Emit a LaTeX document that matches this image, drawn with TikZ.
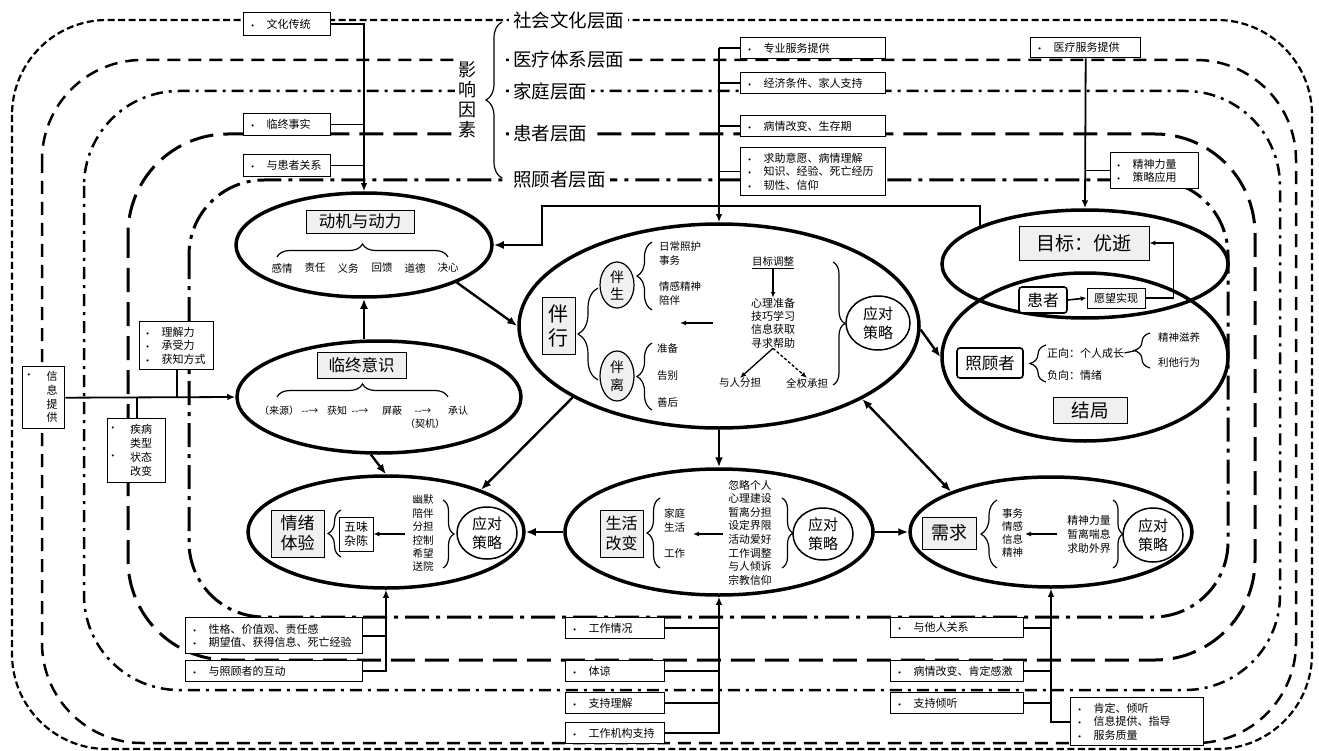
\documentclass[tikz,border=0pt]{standalone}
\usepackage{fontspec}
\setmainfont{Noto Sans CJK SC}
\newfontfamily\dvs{DejaVu Sans}
\usetikzlibrary{shapes.geometric,arrows.meta,decorations.pathreplacing,calc}
\newcommand{\fs}[2]{\fontsize{#1pt}{#2pt}\selectfont}
\newcommand{\bul}{\makebox[16pt][l]{\dvs\fontsize{7pt}{7pt}\selectfont •}}
\newcommand{\darrw}{-{}-→}
\tikzset{
 lay1/.style={line width=2.2pt, dash pattern=on 7pt off 3.5pt},
 lay2/.style={line width=2.5pt, dash pattern=on 13pt off 8pt},
 lay3/.style={line width=2.5pt, dash pattern=on 12pt off 6pt on 3pt off 6pt},
 lay4/.style={line width=3pt, dash pattern=on 24pt off 10pt},
 lay5/.style={line width=3pt, dash pattern=on 24pt off 7pt on 4pt off 7pt},
 lab/.style={anchor=west, fill=white, inner xsep=4pt, inner ysep=1pt, font=\fs{18.5}{20}},
 ibox/.style={draw, line width=1.4pt, fill=white, inner xsep=7pt, inner ysep=0pt, align=left, font=\fs{11}{13.5}, anchor=north west},
 tbox/.style={draw, line width=0.8pt, fill=gray!12, inner sep=0pt, align=center},
 rbox/.style={draw, line width=1.6pt, rounded corners=3pt, fill=white, inner sep=0pt},
 bigell/.style={ellipse, draw, line width=3.5pt, fill=white, inner sep=0pt},
 smell/.style={ellipse, draw, line width=1.5pt, fill=white, inner sep=0pt, align=center, font=\fs{15}{19}},
 txt/.style={inner sep=0pt, align=center},
 conn/.style={line width=1.6pt},
 barr/.style={line width=1.8pt, -{Latex[length=8pt,width=6.5pt]}},
 arr/.style={line width=2.4pt, -{Latex[length=10pt,width=8pt]}},
 darr/.style={line width=2.4pt, {Latex[length=10pt,width=8pt]}-{Latex[length=10pt,width=8pt]}},
 sarr/.style={line width=1.3pt, -{Latex[length=6pt,width=5pt]}},
 brc/.style={decorate, decoration={brace, amplitude=#1}, line width=1.2pt},
}
\begin{document}
\begin{tikzpicture}[x=1pt,y=-1pt]
\useasboundingbox (0,0) rectangle (1319,751);
% ---------- layers ----------
\draw[lay1, rounded corners=95pt] (12,20) rectangle (1312,749);
\draw[lay2, rounded corners=100pt] (42,60) rectangle (1296,743);
\draw[lay3, rounded corners=95pt] (84,91) rectangle (1280,690);
\draw[lay4, rounded corners=100pt] (128,134) rectangle (1255,660);
\draw[lay5, rounded corners=75pt] (189,180) rectangle (1228,617);
\fill[white] (455,38) rectangle (506,172);
\node[lab] (L1) at (509,20) {社会文化层面};
\node[lab] (L2) at (509,60) {医疗体系层面};
\node[lab] (L3) at (509,91) {家庭层面};
\node[lab] (L4) at (509,134) {患者层面};
\node[lab] (L5) at (509,180) {照顾者层面};
\draw[brc=16] (502,178) -- (502,22);
\node[txt, font=\fs{18}{20}] (YX) at (467,100) {影\\响\\因\\素};
% ---------- big ellipses ----------
\node[bigell, minimum width=256pt, minimum height=104pt] (E1) at (364,245) {};
\node[bigell, minimum width=284pt, minimum height=112pt] (E2) at (379,397) {};
\node[bigell, minimum width=400pt, minimum height=204pt] (E3) at (719,326) {};
\fill[white] (1085,264) ellipse [x radius=143pt, y radius=54pt];
\fill[white] (1085,357) ellipse [x radius=143pt, y radius=84pt];
\node[ellipse, draw, line width=3.5pt, inner sep=0pt, minimum width=286pt, minimum height=108pt] (E4) at (1085,264) {};
\node[ellipse, draw, line width=3.5pt, inner sep=0pt, minimum width=286pt, minimum height=168pt] (E5) at (1085,357) {};
\node[bigell, minimum width=276pt, minimum height=112pt] (E6) at (386,532) {};
\node[bigell, minimum width=308pt, minimum height=126pt] (E7) at (719,532) {};
\node[bigell, minimum width=282pt, minimum height=110pt] (E8) at (1051,532) {};
% ---------- info boxes ----------
\node[ibox, minimum width=87pt, minimum height=23pt, text width=73pt] (B1) at (243,12) {\bul 文化传统};
\node[ibox, minimum width=87pt, minimum height=22pt, text width=73pt] (B2) at (243,113) {\bul 临终事实};
\node[ibox, minimum width=87pt, minimum height=22pt, text width=73pt] (B3) at (243,154) {\bul 与患者关系};
\node[ibox, minimum width=145pt, minimum height=21pt, text width=131pt] (B4) at (740,37) {\bul 专业服务提供};
\node[ibox, minimum width=145pt, minimum height=21pt, text width=131pt] (B5) at (740,72) {\bul 经济条件、家人支持};
\node[ibox, minimum width=145pt, minimum height=21pt, text width=131pt] (B6) at (740,115) {\bul 病情改变、生存期};
\node[ibox, minimum width=145pt, minimum height=48pt, text width=131pt] (B7) at (740,147) {\bul 求助意愿、病情理解\\\bul 知识、经验、死亡经历\\\bul 韧性、信仰};
\node[ibox, minimum width=110pt, minimum height=20pt, text width=96pt] (B8) at (1030,37) {\bul 医疗服务提供};
\node[ibox, inner xsep=6pt, minimum width=88pt, minimum height=36pt, text width=76pt] (B9) at (1110,152) {\bul 精神力量\\\bul 策略应用};
\node[ibox, inner xsep=6pt, minimum width=74pt, minimum height=48pt, text width=62pt] (B10) at (139,321) {\bul 理解力\\\bul 承受力\\\bul 获知方式};
\node[ibox, minimum width=42pt, minimum height=62pt, text width=28pt] (B11) at (22,366) {};
\node[txt, font=\dvs\fs{7}{7}] (b11a) at (29,376) {•};
\node[txt, font=\fs{11}{13.7}] (b11t) at (52,397) {信\\息\\提\\供};
\node[ibox, minimum width=58pt, minimum height=64pt, text width=44pt] (B12) at (107,418) {};
\node[txt, font=\dvs\fs{7}{7}] (b12a) at (113,429) {•};
\node[txt, font=\dvs\fs{7}{7}] (b12b) at (113,457) {•};
\node[txt, font=\fs{11}{14}] (b12t) at (141,450) {疾病\\类型\\状态\\改变};
\node[ibox, minimum width=177pt, minimum height=36pt, text width=163pt] (B13) at (185,617) {\bul 性格、价值观、责任感\\\bul 期望值、获得信息、死亡经验};
\node[ibox, minimum width=177pt, minimum height=21pt, text width=163pt] (B14) at (185,660) {\bul 与照顾者的互动};
\node[ibox, minimum width=99pt, minimum height=21pt, text width=85pt] (B15) at (565,617) {\bul 工作情况};
\node[ibox, minimum width=99pt, minimum height=21pt, text width=85pt] (B16) at (565,660) {\bul 体谅};
\node[ibox, minimum width=99pt, minimum height=21pt, text width=85pt] (B17) at (565,692) {\bul 支持理解};
\node[ibox, minimum width=99pt, minimum height=21pt, text width=85pt] (B18) at (565,722) {\bul 工作机构支持};
\node[ibox, minimum width=133pt, minimum height=20pt, text width=119pt] (B19) at (890,617) {\bul 与他人关系};
\node[ibox, minimum width=133pt, minimum height=21pt, text width=119pt] (B20) at (890,660) {\bul 病情改变、肯定感激};
\node[ibox, minimum width=133pt, minimum height=21pt, text width=119pt] (B21) at (890,692) {\bul 支持倾听};
\node[ibox, minimum width=133pt, minimum height=48pt, text width=119pt] (B22) at (1070,697) {\bul 肯定、倾听\\\bul 信息提供、指导\\\bul 服务质量};
% ---------- box connectors ----------
\draw[barr] (B1.east) -| (E1.north);
\draw[conn] (B2.east) -- (B2.east -| E1.north);
\draw[conn] (B3.east) -- (B3.east -| E1.north);
\draw[barr] (B4.west -| E3.north) -- (E3.north);
\draw[conn] (B4.west) -- (B4.west -| E3.north);
\draw[conn] (B5.west) -- (B5.west -| E3.north);
\draw[conn] (B6.west) -- (B6.west -| E3.north);
\draw[conn] (B7.west) -- (B7.west -| E3.north);
\draw[barr] (B8.south) -- (E4.north);
\draw[conn] (B9.west) -- (B9.west -| E4.north);
\draw[barr] (B11.east) -- (E2.west);
\draw[conn] (B10.south) -- (B10.south |- B11.east);
\draw[conn] (B12.north) -- (B12.north |- B11.east);
\draw[barr] (B14.east) -| (E6.south);
\draw[conn] (B13.east) -- (B13.east -| E6.south);
\draw[barr] (B18.east) -| (E7.south);
\draw[conn] (B15.east) -- (B15.east -| E7.south);
\draw[conn] (B16.east) -- (B16.east -| E7.south);
\draw[conn] (B17.east) -- (B17.east -| E7.south);
\draw[barr] (B22.west) -| (E8.south);
\draw[conn] (B19.east) -- (B19.east -| E8.south);
\draw[conn] (B20.east) -- (B20.east -| E8.south);
\draw[conn] (B21.east) -- (B21.east -| E8.south);
% ---------- ellipse connectors ----------
\coordinate (jt) at (542,206);
\draw[arr] (E4.160) |- (jt) |- (E1.east);
\draw[arr] (E1.south |- E2.north) -- (E1.south);
\draw[arr] (E1.-22) -- (E3.west);
\draw[arr] (E3.206) -- (E6.24);
\draw[arr] (E2.262) -- (E6.north);
\draw[arr] (E3.south) -- (E7.north);
\draw[arr] (E7.west) -- (E6.east);
\draw[arr] (E7.east) -- (E8.west);
\draw[darr] (E3.-27) -- (E8.158);
\draw[arr] (E3.-1) -- (E5.west);
% ---------- E1 content ----------
\node[tbox, minimum width=108pt, minimum height=23pt, font=\fs{16.5}{18}] (T1) at (360,221.5) {动机与动力};
\draw[brc=13] (277,257) -- (448,257);
\foreach \x/\t [count=\i] in {282/感情,315/责任,348/义务,382/回馈,415/道德,448/决心}
  \node[txt, font=\fs{10.5}{12}] (dj\i) at (\x,268) {\t};
% ---------- E2 content ----------
\node[tbox, minimum width=89pt, minimum height=26pt, font=\fs{16.5}{18}] (T2) at (361.5,365) {临终意识};
\draw[brc=13] (277,397) -- (448,397);
\node[txt, font=\fs{10}{12}] (r1) at (279,411) {（来源）};
\node[txt, font=\fs{10}{12}] (r2) at (310,411) {\darrw};
\node[txt, font=\fs{10}{12}] (r3) at (337,411) {获知};
\node[txt, font=\fs{10}{12}] (r4) at (360,411) {\darrw};
\node[txt, font=\fs{10}{12}] (r5) at (392,411) {屏蔽};
\node[txt, font=\fs{10}{12}] (r6) at (423,411) {\darrw};
\node[txt, font=\fs{10}{12}] (r7) at (458,411) {承认};
\node[txt, font=\fs{10}{12}] (r8) at (425,424) {（契机）};
% ---------- E3 content ----------
\node[tbox, minimum width=33pt, minimum height=57pt, font=\fs{20}{24}] (T3) at (558.5,325.5) {伴\\行};
\draw[brc=20] (598,380) -- (598,288);
\node[ellipse, draw, line width=1.2pt, fill=gray!12, inner sep=0pt, minimum width=34pt, minimum height=46pt, align=center, font=\fs{14}{17}] (bs) at (617,285) {伴\\生};
\node[ellipse, draw, line width=1.2pt, fill=gray!12, inner sep=0pt, minimum width=34pt, minimum height=50pt, align=center, font=\fs{14}{18}] (bl) at (617,376) {伴\\离};
\draw[brc=15] (652,310) -- (652,242);
\draw[brc=15] (652,410) -- (652,343);
\node[txt, anchor=west, align=left, font=\fs{10.5}{14}] (rc1) at (659,254) {日常照护\\事务};
\node[txt, anchor=west, align=left, font=\fs{10.5}{13.5}] (rc2) at (659,293.5) {情感精神\\陪伴};
\node[txt, anchor=west, font=\fs{10.5}{12}] (lk1) at (657,348) {准备};
\node[txt, anchor=west, font=\fs{10.5}{12}] (lk2) at (657,376) {告别};
\node[txt, anchor=west, font=\fs{10.5}{12}] (lk3) at (657,403) {善后};
\coordinate (a3s) at (713,323);
\coordinate (a3e) at (680,323);
\draw[sarr] (a3s) -- (a3e);
\node[txt, font=\fs{10.5}{12}] (mbtz) at (773,263) {\underline{目标调整}};
\node[txt, font=\fs{11}{13.3}] (clist) at (773,323) {心理准备\\技巧学习\\信息获取\\寻求帮助};
\draw[sarr] (mbtz.south) -- (clist.north);
\node[txt, font=\fs{10.5}{12}] (yrfd) at (740,383) {与人分担};
\node[txt, font=\fs{10.5}{12}] (qqcd) at (807,383) {全权承担};
\draw[sarr] (clist.south) -- (yrfd.north);
\draw[sarr, dash pattern=on 3pt off 2pt] (clist.south) -- (qqcd.north);
\draw[brc=12] (833,262) -- (833,385);
\node[smell, minimum width=64pt, minimum height=54pt] (yd3) at (878,323) {应对\\策略};
% ---------- E4 / E5 content ----------
\node[tbox, minimum width=130pt, minimum height=34pt, font=\fs{19}{21}] (mb) at (1084,243) {目标：优逝};
\node[rbox, minimum width=48pt, minimum height=26pt, font=\fs{16}{18}] (hz) at (1043,300) {患者};
\node[draw, line width=0.8pt, fill=gray!6, inner sep=0pt, minimum width=58pt, minimum height=20pt, font=\fs{11}{12}] (yw) at (1116,298) {愿望实现};
\draw[sarr, line width=1.6pt] (hz.east) -- (yw.west);
\draw[sarr, line width=1.6pt] (yw.east) -| ($(mb.east)+(24,0)$) -- (mb.east);
\node[rbox, minimum width=66pt, minimum height=30pt, font=\fs{16.5}{18}] (zgz) at (990,363) {照顾者};
\draw[brc=16] (1046,382) -- (1046,345);
\node[txt, anchor=west, font=\fs{11}{12}] (zx) at (1047,353) {正向：个人成长};
\node[txt, anchor=west, font=\fs{11}{12}] (fx) at (1047,375) {负向：情绪};
\coordinate (zxtip) at (1134,351);
\draw[line width=1.2pt] (zx.east) -- (zxtip);
\draw[brc=16] (1150,368) -- (1150,333);
\node[txt, anchor=west, font=\fs{10.5}{12}] (jszy) at (1158,337) {精神滋养};
\node[txt, anchor=west, font=\fs{10.5}{12}] (ltxw) at (1158,363) {利他行为};
\node[tbox, minimum width=74pt, minimum height=26pt, font=\fs{18.5}{20}] (jj) at (1090,410) {结局};
% ---------- E6 content ----------
\node[tbox, minimum width=53pt, minimum height=47pt, font=\fs{17}{20}] (T6) at (297.5,533.5) {情绪\\体验};
\draw[brc=13] (341,557) -- (341,510);
\node[draw, line width=0.8pt, fill=white, inner sep=0pt, minimum width=34pt, minimum height=34pt, align=center, font=\fs{12}{14}] (wwzc) at (356,534) {五味\\杂陈};
\draw[sarr] ($(wwzc.east)+(32,0)$) -- (wwzc.east);
\node[txt, font=\fs{10.5}{13.4}] (list6) at (423,533.5) {幽默\\陪伴\\分担\\控制\\希望\\送院};
\draw[brc=11] (443,500) -- (443,568);
\node[smell, minimum width=60pt, minimum height=52pt] (yd6) at (487,533) {应对\\策略};
% ---------- E7 content ----------
\node[tbox, minimum width=43pt, minimum height=47pt, font=\fs{16}{20}] (T7) at (621.5,533.5) {生活\\改变};
\draw[brc=13] (660,568) -- (660,498);
\node[txt, anchor=west, align=left, font=\fs{10.5}{14}] (jt7) at (664,520) {家庭\\生活};
\node[txt, anchor=west, font=\fs{10.5}{12}] (gz7) at (664,554) {工作};
\coordinate (a7s) at (723,534);
\coordinate (a7e) at (693,534);
\draw[sarr] (a7s) -- (a7e);
\node[txt, font=\fs{10.8}{13.6}] (list7) at (750,532.5) {忽略个人\\心理建设\\暂离分担\\设定界限\\活动爱好\\工作调整\\与人倾诉\\宗教信仰};
\draw[brc=11] (782,498) -- (782,568);
\node[smell, minimum width=60pt, minimum height=52pt] (yd7) at (823,534) {应对\\策略};
% ---------- E8 content ----------
\node[tbox, minimum width=54pt, minimum height=32pt, font=\fs{18}{20}] (T8) at (949,533) {需求};
\draw[brc=16] (997,568) -- (997,500);
\node[txt, anchor=west, align=left, font=\fs{10.5}{13.3}] (xq8) at (1002,533) {事务\\情感\\信息\\精神};
\coordinate (a8s) at (1057,534);
\coordinate (a8e) at (1025,534);
\draw[sarr] (a8s) -- (a8e);
\node[txt, font=\fs{10.8}{14}] (list8) at (1089,534) {精神力量\\暂离喘息\\求助外界};
\draw[brc=10] (1113,500) -- (1113,568);
\node[smell, minimum width=60pt, minimum height=54pt] (yd8) at (1153,535) {应对\\策略};
\end{tikzpicture}
\end{document}
